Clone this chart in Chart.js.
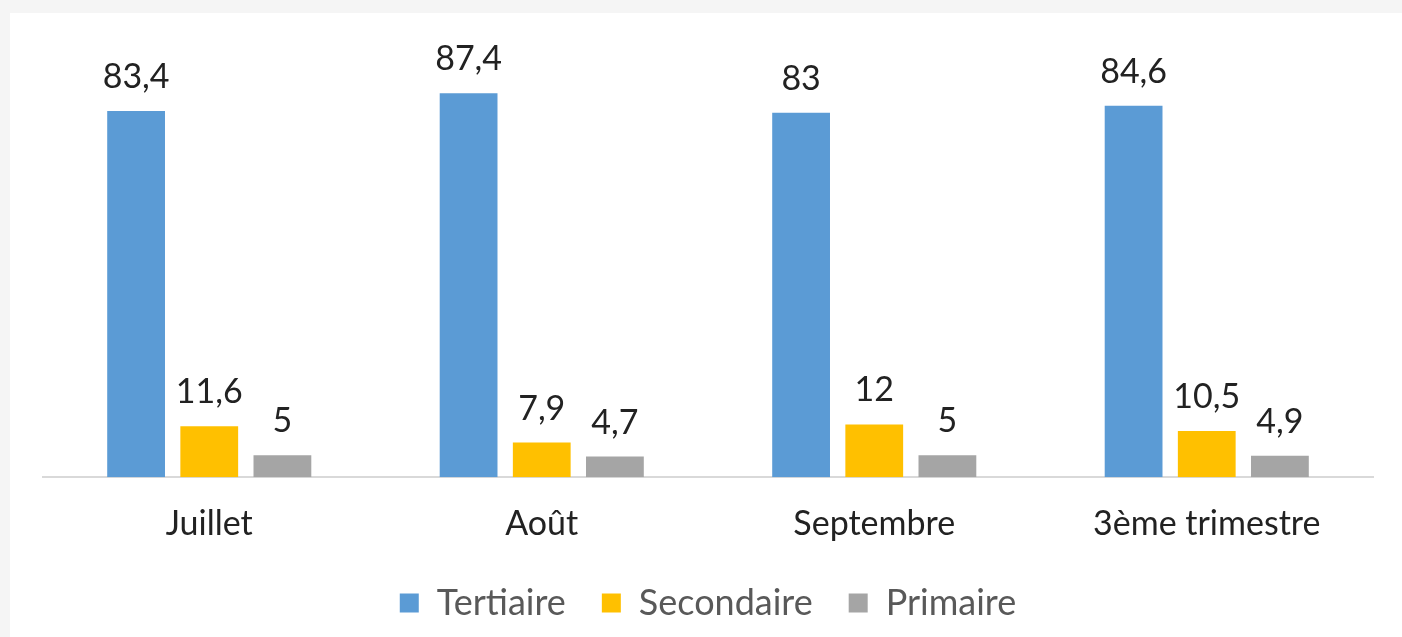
<!DOCTYPE html>
<html>
<head>
<meta charset="utf-8">
<script src="https://cdn.jsdelivr.net/npm/chart.js@4"></script>
<style>
  html, body { margin: 0; padding: 0; background: #f5f5f5; }
  #wrap { position: absolute; left: 10px; top: 13px; width: 1392px; height: 624px; background: #fff; }
  canvas { display: block; }
</style>
</head>
<body>
<div id="wrap"><canvas id="chart"></canvas></div>
<script>
const categories = ['Juillet', 'Août', 'Septembre', '3ème trimestre'];
const tertiaire = [83.4, 87.4, 83, 84.6];
const secondaire = [11.6, 7.9, 12, 10.5];
const primaire = [5, 4.7, 5, 4.9];

const fontFamily = 'Lato, "Open Sans", sans-serif';

// value labels above each bar, with a French decimal comma
const valueLabels = {
    id: 'valueLabels',
    afterDatasetsDraw(chart) {
        const ctx = chart.ctx;
        ctx.save();
        ctx.font = '34px ' + fontFamily;
        ctx.fillStyle = '#222';
        ctx.textAlign = 'center';
        ctx.textBaseline = 'alphabetic';
        chart.data.datasets.forEach((ds, i) => {
            chart.getDatasetMeta(i).data.forEach((bar, j) => {
                const txt = String(ds.data[j]).replace('.', ',');
                ctx.fillText(txt, bar.x, bar.y - 23);
            });
        });
        ctx.restore();
    }
};

new Chart(document.getElementById('chart').getContext('2d'), {
    type: 'bar',
    data: {
        labels: categories,
        datasets: [
            { label: 'Tertiaire', data: tertiaire, backgroundColor: '#5B9BD5' },
            { label: 'Secondaire', data: secondaire, backgroundColor: '#FFC000' },
            { label: 'Primaire', data: primaire, backgroundColor: '#A5A5A5' }
        ]
    },
    options: {
        responsive: true,
        maintainAspectRatio: false,
        animation: false,
        categoryPercentage: 0.66,
        barPercentage: 0.79,
        layout: { padding: { left: 33, right: 29, top: 25, bottom: 6 } },
        scales: {
            x: {
                grid: { display: false },
                border: { color: '#d9d9d9', width: 2 },
                ticks: { color: '#222', font: { family: fontFamily, size: 34 }, padding: 18 },
                // pull the legend a little closer to the month labels
                afterFit(scale) { scale.height -= 13; }
            },
            y: { display: false, min: 0, max: 100 }
        },
        plugins: {
            legend: {
                position: 'bottom',
                labels: {
                    color: '#595959',
                    font: { family: fontFamily, size: 36 },
                    boxWidth: 19,
                    boxHeight: 19,
                    padding: 36
                }
            },
            tooltip: { enabled: false }
        }
    },
    plugins: [valueLabels]
});
</script>
</body>
</html>
